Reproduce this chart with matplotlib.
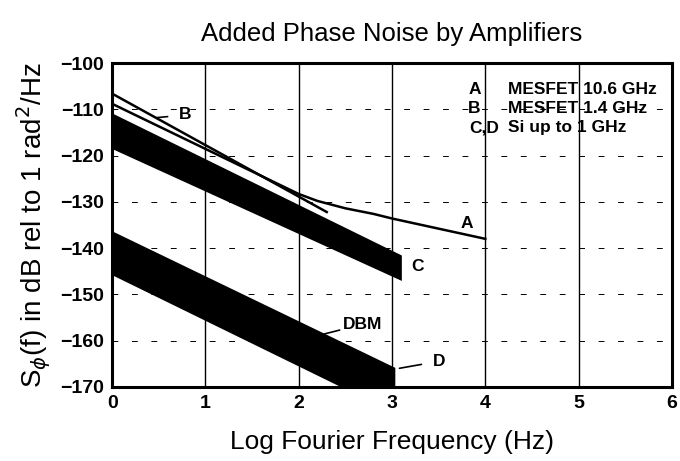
import matplotlib.pyplot as plt

# Line curves (log frequency, dB)
a_x = [0, 2.0, 2.2, 2.5, 2.8, 3.0, 4.0]
a_y = [-108.8, -128.3, -129.8, -131.4, -132.6, -133.6, -138.0]
b_x = [0, 2.3]
b_y = [-106.6, -132.2]

# Shaded bands (top / bottom edges)
c_x = [0, 3.1]
c_top = [-110.8, -141.5]
c_bot = [-118.5, -147.0]
d_x = [0, 3.03]
d_top = [-136.3, -165.8]
d_bot = [-145.8, -175.7]

x_ticks = [0, 1, 2, 3, 4, 5, 6]
y_ticks = [-100, -110, -120, -130, -140, -150, -160, -170]

legend_keys = ["A", "B", "C,D"]
legend_text = ["MESFET 10.6 GHz", "MESFET 1.4 GHz", "Si up to 1 GHz"]
legend_y = [-105.6, -109.8, -114.0]

plt.rcParams["font.family"] = ["Liberation Sans", "DejaVu Sans"]

fig = plt.figure(figsize=(6.8, 4.61), dpi=100)
ax = fig.add_axes([0.165, 0.161, 0.823, 0.702])

# grid
for xv in x_ticks[1:-1]:
    ax.axvline(xv, color="black", lw=1.0, zorder=1)
for yv in y_ticks[1:-1]:
    ax.axhline(yv, color="black", lw=0.7, ls=(0, (6, 14)), zorder=1)

ax.fill_between(c_x, c_top, c_bot, color="black", lw=0, zorder=2)
ax.fill_between(d_x, d_top, d_bot, color="black", lw=0, zorder=2)
ax.plot(a_x, a_y, color="black", lw=1.8, zorder=3)
ax.plot(b_x, b_y, color="black", lw=1.8, zorder=3)

lab = dict(fontsize=12.5, fontweight="bold", color="black")
ax.text(3.8, -134.6, "A", ha="center", va="center", **lab)
ax.annotate("B", xy=(0.47, -111.8), xytext=(0.78, -111.2),
            ha="center", va="center",
            arrowprops=dict(arrowstyle="-", lw=1.2, color="black",
                            shrinkA=6, shrinkB=0), **lab)
ax.text(3.27, -144.0, "C", ha="center", va="center", **lab)
ax.annotate("DBM", xy=(2.27, -158.6), xytext=(2.68, -156.5),
            ha="center", va="center",
            arrowprops=dict(arrowstyle="-", lw=1.2, color="black",
                            shrinkA=15, shrinkB=0), **lab)
ax.annotate("D", xy=(3.08, -166.0), xytext=(3.5, -164.5),
            ha="center", va="center",
            arrowprops=dict(arrowstyle="-", lw=1.2, color="black",
                            shrinkA=6, shrinkB=0), **lab)

for key, txt, yv in zip(legend_keys, legend_text, legend_y):
    ax.text(3.95 if key != "C,D" else 4.15, yv, key, ha="right", va="center", **lab)
    ax.text(4.24, yv, txt, ha="left", va="center", **lab)

ax.set_xlim(0, 6)
ax.set_ylim(-170, -100)
ax.set_xticks(x_ticks)
ax.set_yticks(y_ticks)
ax.set_yticklabels(["\u2212" + str(abs(v)) for v in y_ticks])
ax.tick_params(length=0, labelsize=14, pad=6)
for t in ax.get_xticklabels() + ax.get_yticklabels():
    t.set_fontweight("bold")
for s in ax.spines.values():
    s.set_linewidth(2.2)

ax.set_title("Added Phase Noise by Amplifiers", fontsize=18.5, pad=16)
ax.set_xlabel("Log Fourier Frequency (Hz)", fontsize=19, labelpad=13)
ax.set_ylabel(r"S$_{\phi}$(f) in dB rel to 1 rad$^2$/Hz", fontsize=20, labelpad=5)

fig.savefig("out.png", dpi=100)
